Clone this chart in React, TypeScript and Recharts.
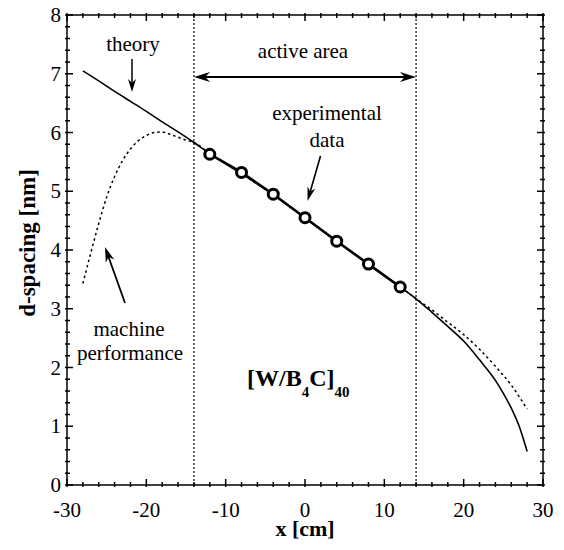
import React from "react";
import {
  LineChart,
  Line,
  XAxis,
  YAxis,
  ReferenceLine,
} from "recharts";

// theory curve, d-spacing [nm] vs x [cm]
const theoryX = [-28, -26, -24, -22, -20, -18, -16, -14, -12, -8, -4, 0, 4, 8, 12, 14, 16, 18, 20, 22, 24, 25, 26, 27, 28];
const theoryD = [7.05, 6.88, 6.7, 6.53, 6.36, 6.18, 6.01, 5.83, 5.64, 5.3, 4.94, 4.55, 4.15, 3.76, 3.37, 3.17, 2.94, 2.7, 2.45, 2.13, 1.78, 1.56, 1.31, 1.0, 0.57];

// machine performance (dotted)
const machineX = [-28, -27, -26, -25, -24, -23, -22, -21, -20, -19, -18, -17, -16, -15, -14, -12, -8, -4, 0, 4, 8, 12, 14, 16, 18, 20, 22, 24, 26, 28];
const machineD = [3.43, 3.95, 4.45, 4.9, 5.25, 5.52, 5.72, 5.86, 5.95, 6.0, 6.01, 5.97, 5.92, 5.87, 5.83, 5.64, 5.3, 4.94, 4.55, 4.15, 3.76, 3.37, 3.17, 2.98, 2.77, 2.56, 2.31, 2.02, 1.7, 1.29];

// experimental data points
const expX = [-12, -8, -4, 0, 4, 8, 12];
const expD = [5.63, 5.32, 4.95, 4.55, 4.15, 3.76, 3.37];

// active area limits
const activeArea = [-14, 14];

const xMajorTicks = [-30, -20, -10, 0, 10, 20, 30];
const yMajorTicks = [0, 1, 2, 3, 4, 5, 6, 7, 8];

const xTicks = Array.from({ length: 31 }, (_, i) => -30 + i * 2);
const yTicks = Array.from({ length: 41 }, (_, i) => Math.round(i * 2) / 10);

const toRows = (xs: number[], ys: number[]) => xs.map((x, i) => ({ x, d: ys[i] }));

const theoryData = toRows(theoryX, theoryD);
const machineData = toRows(machineX, machineD);
const expData = toRows(expX, expD);

const FONT = "Liberation Serif";
const W = 564;
const H = 550;

const isMajorX = (v: number) => xMajorTicks.includes(v);
const isMajorY = (v: number) => yMajorTicks.some((m) => Math.abs(m - v) < 1e-6);

const BottomTick = (props: any) => {
  const { x, y, payload } = props;
  const v = payload.value;
  const major = isMajorX(v);
  return (
    <g>
      <line x1={x} x2={x} y1={y} y2={y - (major ? 8 : 5)} stroke="#000" strokeWidth={1.5} />
      {major && (
        <text x={x} y={y + 30} textAnchor="middle" fontSize={21} fontFamily={FONT} fill="#000">
          {v}
        </text>
      )}
    </g>
  );
};

const TopTick = (props: any) => {
  const { x, y, payload } = props;
  const major = isMajorX(payload.value);
  return (
    <g>
      <line x1={x} x2={x} y1={y} y2={y + (major ? 8 : 5)} stroke="#000" strokeWidth={1.5} />
    </g>
  );
};

const LeftTick = (props: any) => {
  const { x, y, payload } = props;
  const v = payload.value;
  const major = isMajorY(v);
  return (
    <g>
      <line x1={x} x2={x + (major ? 8 : 5)} y1={y} y2={y} stroke="#000" strokeWidth={1.5} />
      {major && (
        <text x={x - 4} y={y + 7} textAnchor="end" fontSize={21} fontFamily={FONT} fill="#000">
          {Math.round(v)}
        </text>
      )}
    </g>
  );
};

const RightTick = (props: any) => {
  const { x, y, payload } = props;
  const major = isMajorY(payload.value);
  return (
    <g>
      <line x1={x} x2={x - (major ? 8 : 5)} y1={y} y2={y} stroke="#000" strokeWidth={1.5} />
    </g>
  );
};

// arrow with concave filled head, from tail to tip (pixels)
const Arrow = ({ from, to, len = 14, half = 4.5, width = 1.8 }: any) => {
  const dx = to[0] - from[0];
  const dy = to[1] - from[1];
  const n = Math.hypot(dx, dy);
  const ux = dx / n;
  const uy = dy / n;
  const px = -uy;
  const py = ux;
  const bx = to[0] - ux * len;
  const by = to[1] - uy * len;
  const head = [
    [to[0], to[1]],
    [bx + px * half, by + py * half],
    [to[0] - ux * len * 0.7, to[1] - uy * len * 0.7],
    [bx - px * half, by - py * half],
  ]
    .map((p) => p.join(","))
    .join(" ");
  return (
    <g>
      <line
        x1={from[0]}
        y1={from[1]}
        x2={to[0] - ux * len * 0.6}
        y2={to[1] - uy * len * 0.6}
        stroke="#000"
        strokeWidth={width}
      />
      <polygon points={head} fill="#000" />
    </g>
  );
};

const Annotations = () => (
  <svg
    width={W}
    height={H}
    style={{ position: "absolute", left: 0, top: 0, pointerEvents: "none" }}
  >
    <text x={133} y={51} textAnchor="middle" fontSize={21} fontFamily={FONT}>
      theory
    </text>
    <text x={303} y={58} textAnchor="middle" fontSize={21} fontFamily={FONT}>
      active area
    </text>
    <text x={327} y={120} textAnchor="middle" fontSize={21} fontFamily={FONT}>
      experimental
    </text>
    <text x={327} y={147} textAnchor="middle" fontSize={21} fontFamily={FONT}>
      data
    </text>
    <text x={129} y={336} textAnchor="middle" fontSize={21} fontFamily={FONT}>
      machine
    </text>
    <text x={130} y={360} textAnchor="middle" fontSize={21} fontFamily={FONT}>
      performance
    </text>
    <text x={247} y={386} fontSize={24} fontWeight="bold" fontFamily={FONT}>
      [W/B
      <tspan dy={11} fontSize={15}>4</tspan>
      <tspan dy={-11}>C]</tspan>
      <tspan dy={11} fontSize={15}>40</tspan>
    </text>
    <text x={305} y={536} textAnchor="middle" fontSize={22} fontWeight="bold" fontFamily={FONT}>
      x [cm]
    </text>
    <text
      x={0}
      y={0}
      transform="translate(27 243) rotate(-90)"
      textAnchor="middle"
      dominantBaseline="central"
      fontSize={23}
      fontWeight="bold"
      fontFamily={FONT}
    >
      d-spacing [nm]
    </text>
    <Arrow from={[132, 59]} to={[132, 92]} len={13} half={4} width={1.5} />
    <Arrow from={[305, 77]} to={[194, 77]} len={16} half={5} width={2} />
    <Arrow from={[305, 77]} to={[416, 77]} len={16} half={5} width={2} />
    <Arrow from={[320.5, 156]} to={[307.5, 201]} len={14} half={4} width={1.6} />
    <Arrow from={[125, 303]} to={[105, 247]} len={15} half={4.5} width={1.8} />
  </svg>
);

export default function App() {
  return (
    <div style={{ position: "relative", width: W, height: H, margin: -8, background: "#fff" }}>
      <LineChart width={W} height={H} margin={{ top: 14, right: 20, bottom: 0, left: 0 }}>
        <XAxis
          dataKey="x"
          type="number"
          domain={[-30, 30]}
          ticks={xTicks}
          interval={0}
          allowDataOverflow
          height={65}
          tickSize={0}
          tick={BottomTick}
          axisLine={{ stroke: "#000", strokeWidth: 1.5 }}
        />
        <XAxis
          xAxisId="top"
          orientation="top"
          dataKey="x"
          type="number"
          domain={[-30, 30]}
          ticks={xTicks}
          interval={0}
          allowDataOverflow
          height={1}
          tickSize={0}
          tick={TopTick}
          axisLine={{ stroke: "#000", strokeWidth: 1.5 }}
        />
        <YAxis
          type="number"
          domain={[0, 8]}
          ticks={yTicks}
          interval={0}
          allowDataOverflow
          width={67}
          tickSize={0}
          tick={LeftTick}
          axisLine={{ stroke: "#000", strokeWidth: 1.5 }}
        />
        <YAxis
          yAxisId="right"
          orientation="right"
          type="number"
          domain={[0, 8]}
          ticks={yTicks}
          interval={0}
          allowDataOverflow
          width={1}
          tickSize={0}
          tick={RightTick}
          axisLine={{ stroke: "#000", strokeWidth: 1.5 }}
        />
        {activeArea.map((x) => (
          <ReferenceLine key={x} x={x} stroke="#000" strokeWidth={1.2} strokeDasharray="2 2" />
        ))}
        <Line
          data={theoryData}
          dataKey="d"
          type="monotone"
          stroke="#000"
          strokeWidth={1.6}
          dot={false}
          isAnimationActive={false}
        />
        <Line
          data={machineData}
          dataKey="d"
          type="monotone"
          stroke="#000"
          strokeWidth={1.5}
          strokeDasharray="2.5 3"
          dot={false}
          isAnimationActive={false}
        />
        <Line
          data={expData}
          dataKey="d"
          type="linear"
          stroke="#000"
          strokeWidth={2.6}
          dot={{ r: 5, stroke: "#000", strokeWidth: 3, fill: "#fff" }}
          isAnimationActive={false}
        />
      </LineChart>
      <Annotations />
    </div>
  );
}
